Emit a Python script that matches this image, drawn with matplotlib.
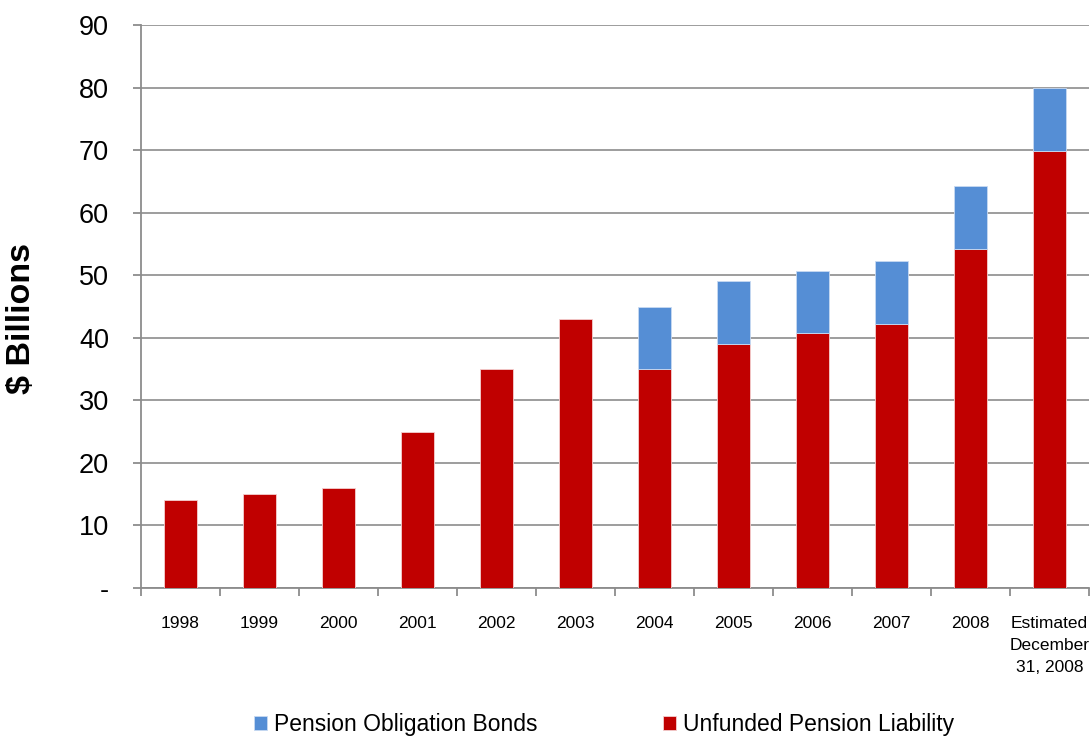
import numpy as np
import matplotlib
matplotlib.use("Agg")
import matplotlib.pyplot as plt
from matplotlib.ticker import FixedLocator

# Data ($ billions)
categories = ["1998", "1999", "2000", "2001", "2002", "2003", "2004", "2005",
              "2006", "2007", "2008", "Estimated\nDecember\n31, 2008"]
unfunded = [14, 15, 16, 25, 35, 43, 35, 39, 40.7, 42.2, 54.2, 69.9]
pob = [0, 0, 0, 0, 0, 0, 10, 10, 10, 10, 10, 10]
y_ticks = [0, 10, 20, 30, 40, 50, 60, 70, 80, 90]
y_tick_labels = ["-", "10", "20", "30", "40", "50", "60", "70", "80", "90"]

font = ["Liberation Sans", "DejaVu Sans"]

red = "#C00000"
blue = "#558ED5"
grey = "#8C8C8C"

fig = plt.figure(figsize=(10.91, 7.38), dpi=100)
ax = fig.add_axes([141 / 1091, 1 - 588 / 738, (1089 - 141) / 1091, (588 - 25) / 738])

x = np.arange(len(categories))
width = 0.42
ax.bar(x, unfunded, width, color=red, edgecolor="#f4d0d0", linewidth=0.6,
       label="Unfunded Pension Liability", zorder=3)
# only draw the bond segment where there is one, so no stray edge lines
pob_arr = np.array(pob, dtype=float)
has_pob = pob_arr > 0
ax.bar(x[has_pob], pob_arr[has_pob], width, bottom=np.array(unfunded)[has_pob],
       color=blue, edgecolor="#c8daf2", linewidth=0.6,
       label="Pension Obligation Bonds", zorder=3)

ax.set_xlim(-0.5, len(categories) - 0.5)
ax.set_ylim(0, 90)

# y axis
ax.set_yticks(y_ticks)
ax.set_yticklabels(y_tick_labels, family=font, fontsize=19.5)
ax.tick_params(axis="y", length=6, width=1.3, color=grey, pad=17)
ax.yaxis.grid(True, color=grey, linewidth=1.2, zorder=0)

# x axis: labels at centres, tick marks between categories
ax.set_xticks(x)
ax.set_xticklabels(categories, family=font, fontsize=12.5, linespacing=1.6, va="top")
ax.tick_params(axis="x", which="major", length=0, pad=20)
ax.xaxis.set_minor_locator(FixedLocator(np.arange(-0.5, len(categories), 1.0)))
ax.tick_params(axis="x", which="minor", length=6, width=1.3, color=grey)

for side in ["top", "right"]:
    ax.spines[side].set_visible(False)
for side in ["left", "bottom"]:
    ax.spines[side].set_color(grey)
    ax.spines[side].set_linewidth(1.3)

fig.text(22 / 1091, 1 - 318 / 738, "$ Billions", rotation=90, ha="center", va="center",
         family=font, fontweight="bold", fontsize=24.5)

handles, labels = ax.get_legend_handles_labels()
fig.legend(handles[::-1], labels[::-1], loc="center", bbox_to_anchor=(604 / 1091, 1 - 725 / 738),
           ncol=2, frameon=False, prop={"family": font, "size": 16.5},
           handlelength=0.55, handleheight=0.55, handletextpad=0.3, columnspacing=5.5)

fig.savefig("out.png", dpi=100)
